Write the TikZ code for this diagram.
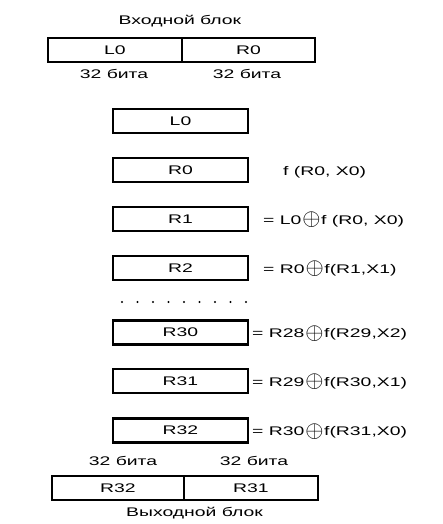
\documentclass[tikz,border=0pt]{standalone}
\usepackage{graphicx}
\usepackage{fontspec}
\setmainfont[FakeStretch=1.55]{Liberation Sans}
\newcommand{\xorsym}{\kern1pt\raisebox{-1.5pt}{\scalebox{1.95}{$\oplus$}}\kern0.5pt}
\begin{document}
\begin{tikzpicture}[x=1pt,y=-1pt,
  txt/.style={font=\fontsize{12.5}{14}\selectfont, inner sep=0pt, text=black},
  box/.style={draw, line width=2.6pt, minimum height=24pt, inner sep=0pt, txt},
  lbl/.style={txt, anchor=base},
  eq/.style={txt, anchor=base west}]
\useasboundingbox (0,0) rectangle (442,524);
% input block
\node[lbl] (tin) at (180,25) {Входной блок};
\node[box, minimum width=134pt] (L0in) at (115,50) {L0};
\node[box, minimum width=133pt] (R0in) at (248.5,50) {R0};
\node[lbl] (b1) at (114,79) {32 бита};
\node[lbl] (b2) at (247,79) {32 бита};
% rounds
\node[box, minimum width=135pt] (L0) at (180.5,121) {L0};
\node[box, minimum width=135pt] (R0) at (180.5,170) {R0};
\node[box, minimum width=135pt] (R1) at (180.5,219) {R1};
\node[box, minimum width=135pt] (R2) at (180.5,268) {R2};
\foreach \i in {0,...,8} \fill (122+15.5*\i,302) circle (1.1pt);
\node[box, minimum width=135pt] (R30) at (180.5,332.5) {R30};
\node[box, minimum width=135pt] (R31) at (180.5,381) {R31};
\node[box, minimum width=135pt] (R32) at (180.5,430.5) {R32};
% equations
\node[eq] (e0) at (283,175) {f (R0, X0)};
\node[eq] (e1) at (263,224) {= L0\xorsym f (R0, X0)};
\node[eq] (e2) at (263,273) {= R0\xorsym f(R1,X1)};
\node[eq] (e30) at (252,337.5) {= R28\xorsym f(R29,X2)};
\node[eq] (e31) at (252,386) {= R29\xorsym f(R30,X1)};
\node[eq] (e32) at (252,435.5) {= R30\xorsym f(R31,X0)};
% output block
\node[lbl] (b3) at (123,465) {32 бита};
\node[lbl] (b4) at (254,465) {32 бита};
\node[box, minimum width=132pt] (R32out) at (118,488) {R32};
\node[box, minimum width=134pt] (R31out) at (251,488) {R31};
\node[lbl] (tout) at (194.5,516) {Выходной блок};
\end{tikzpicture}
\end{document}
